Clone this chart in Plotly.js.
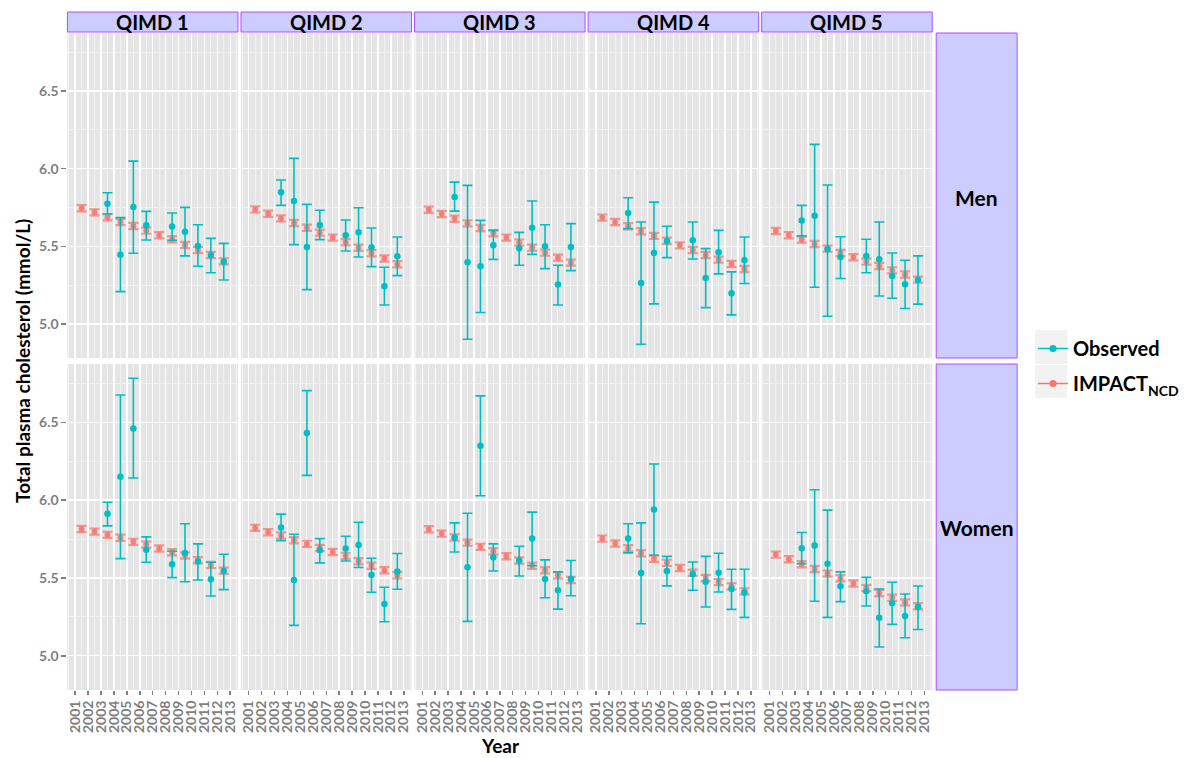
<!DOCTYPE html>
<html>
<head>
<meta charset="utf-8">
<script src="https://cdn.plot.ly/plotly-3.0.1.min.js"></script>
<style>html,body{margin:0;padding:0;background:#fff;}#chart{width:1184px;height:758px;}</style>
</head>
<body>
<div id="chart"></div>
<script>
// ---------------- DATA ----------------
const quintiles = ['QIMD 1', 'QIMD 2', 'QIMD 3', 'QIMD 4', 'QIMD 5'];
const sexes = ['Men', 'Women'];
const years = [2001, 2002, 2003, 2004, 2005, 2006, 2007, 2008, 2009, 2010, 2011, 2012];
const tickYears = [2001, 2002, 2003, 2004, 2005, 2006, 2007, 2008, 2009, 2010, 2011, 2012, 2013];

// IMPACT_NCD modelled mean (mmol/L), one row per QIMD
const impactMen = [
  [5.745, 5.719, 5.687, 5.657, 5.631, 5.601, 5.571, 5.545, 5.509, 5.476, 5.444, 5.403],
  [5.738, 5.710, 5.680, 5.650, 5.620, 5.588, 5.556, 5.526, 5.491, 5.455, 5.421, 5.384],
  [5.736, 5.708, 5.678, 5.648, 5.618, 5.584, 5.556, 5.524, 5.491, 5.459, 5.427, 5.395],
  [5.685, 5.657, 5.629, 5.597, 5.567, 5.536, 5.506, 5.476, 5.444, 5.414, 5.386, 5.354],
  [5.599, 5.571, 5.543, 5.515, 5.485, 5.457, 5.429, 5.401, 5.373, 5.345, 5.318, 5.285]
];
const impactWomen = [
  [5.815, 5.798, 5.777, 5.758, 5.732, 5.715, 5.689, 5.665, 5.644, 5.614, 5.584, 5.547],
  [5.822, 5.794, 5.773, 5.742, 5.719, 5.693, 5.667, 5.642, 5.607, 5.579, 5.549, 5.517],
  [5.813, 5.785, 5.760, 5.727, 5.700, 5.672, 5.639, 5.612, 5.579, 5.549, 5.517, 5.487],
  [5.753, 5.721, 5.691, 5.659, 5.624, 5.597, 5.564, 5.534, 5.500, 5.474, 5.446, 5.414],
  [5.650, 5.620, 5.588, 5.558, 5.528, 5.498, 5.464, 5.436, 5.403, 5.373, 5.343, 5.318]
];
const impactHalfCI = 0.02;

// Observed (HSE) mean and 95% CI, null where not measured
const obsMen = [
  [null, null, 5.775, 5.446, 5.753, 5.635, null, 5.627, 5.594, 5.502, 5.442, 5.401],
  [null, null, 5.848, 5.792, 5.496, 5.637, null, 5.571, 5.590, 5.494, 5.243, 5.436],
  [null, null, 5.818, 5.397, 5.371, 5.506, null, 5.487, 5.620, 5.500, 5.253, 5.496],
  [null, null, 5.715, 5.264, 5.457, 5.534, null, 5.539, 5.296, 5.461, 5.197, 5.410],
  [null, null, 5.667, 5.697, 5.481, 5.431, null, 5.438, 5.416, 5.309, 5.255, 5.283]
];
const obsMenLo = [
  [null, null, 5.708, 5.208, 5.455, 5.541, null, 5.539, 5.438, 5.371, 5.330, 5.283],
  [null, null, 5.764, 5.511, 5.221, 5.543, null, 5.470, 5.431, 5.369, 5.122, 5.311],
  [null, null, 5.727, 4.901, 5.073, 5.416, null, 5.378, 5.448, 5.356, 5.122, 5.343],
  [null, null, 5.614, 4.869, 5.129, 5.427, null, 5.418, 5.105, 5.322, 5.058, 5.260],
  [null, null, 5.567, 5.236, 5.049, 5.292, null, 5.330, 5.180, 5.165, 5.099, 5.127]
];
const obsMenHi = [
  [null, null, 5.845, 5.685, 6.049, 5.725, null, 5.715, 5.751, 5.639, 5.551, 5.519],
  [null, null, 5.927, 6.067, 5.770, 5.732, null, 5.670, 5.749, 5.618, 5.365, 5.560],
  [null, null, 5.914, 5.893, 5.667, 5.603, null, 5.590, 5.792, 5.639, 5.378, 5.646],
  [null, null, 5.813, 5.657, 5.785, 5.629, null, 5.657, 5.485, 5.603, 5.335, 5.560],
  [null, null, 5.764, 6.157, 5.895, 5.562, null, 5.545, 5.657, 5.457, 5.410, 5.438]
];
const obsWomen = [
  [null, null, 5.912, 6.150, 6.461, 5.682, null, 5.588, 5.661, 5.605, 5.491, 5.545],
  [null, null, 5.824, 5.487, 6.431, 5.678, null, 5.689, 5.712, 5.519, 5.333, 5.541],
  [null, null, 5.758, 5.569, 6.350, 5.633, null, 5.612, 5.753, 5.494, 5.421, 5.494],
  [null, null, 5.753, 5.532, 5.940, 5.545, null, 5.524, 5.476, 5.534, 5.429, 5.406],
  [null, null, 5.691, 5.708, 5.592, 5.446, null, 5.414, 5.245, 5.337, 5.255, 5.313]
];
const obsWomenLo = [
  [null, null, 5.835, 5.624, 6.142, 5.601, null, 5.502, 5.476, 5.487, 5.384, 5.425],
  [null, null, 5.740, 5.195, 6.159, 5.597, null, 5.609, 5.567, 5.408, 5.219, 5.427],
  [null, null, 5.667, 5.221, 6.028, 5.545, null, 5.513, 5.579, 5.373, 5.300, 5.386],
  [null, null, 5.661, 5.206, 5.646, 5.449, null, 5.421, 5.313, 5.410, 5.298, 5.247],
  [null, null, 5.592, 5.350, 5.247, 5.348, null, 5.320, 5.056, 5.202, 5.116, 5.169]
];
const obsWomenHi = [
  [null, null, 5.987, 6.676, 6.783, 5.764, null, 5.672, 5.848, 5.719, 5.601, 5.652],
  [null, null, 5.910, 5.781, 6.704, 5.753, null, 5.768, 5.858, 5.627, 5.440, 5.657],
  [null, null, 5.854, 5.916, 6.670, 5.719, null, 5.704, 5.923, 5.616, 5.539, 5.612],
  [null, null, 5.848, 5.854, 6.232, 5.639, null, 5.603, 5.639, 5.659, 5.556, 5.556],
  [null, null, 5.792, 6.067, 5.936, 5.539, null, 5.504, 5.429, 5.472, 5.397, 5.448]
];

// ---------------- STYLE ----------------
const W = 1184, H = 758;
const FONT = 'Lato, "Open Sans", sans-serif';
const OBS_COL = '#00BFC4', IMP_COL = '#F8766D';
const panelLeft = 67.5, panelW = 170.7, panelGap = 3;
const rowsPx = [[33, 358], [364, 690]];
const stripTop = [12, 32];
const rightStrip = [937, 1018];

// points are drawn at mid-year
const xPos = years.map(y => y + 0.5);

const traces = [];
const layout = {
  width: W, height: H,
  margin: {l: 0, r: 0, t: 0, b: 0},
  paper_bgcolor: '#ffffff',
  plot_bgcolor: '#e5e5e5',
  font: {family: FONT, color: '#000'},
  showlegend: true,
  legend: {
    x: 1034 / W, xanchor: 'left', y: 1 - 329 / H, yanchor: 'top',
    bgcolor: 'rgba(0,0,0,0)', borderwidth: 0,
    font: {family: FONT, size: 20, weight: 700, color: '#000'},
    itemwidth: 30, traceorder: 'grouped', tracegroupgap: 6
  },
  shapes: [], annotations: []
};

const pf = (px) => px / W;
const pfy = (py) => 1 - py / H;

for (let r = 0; r < 2; r++) {
  for (let c = 0; c < 5; c++) {
    const n = r * 5 + c + 1;
    const xa = n === 1 ? 'xaxis' : 'xaxis' + n;
    const ya = n === 1 ? 'yaxis' : 'yaxis' + n;
    const xr = n === 1 ? 'x' : 'x' + n;
    const yr = n === 1 ? 'y' : 'y' + n;
    const x0 = panelLeft + c * (panelW + panelGap), x1 = x0 + panelW;
    layout[xa] = {
      domain: [pf(x0), pf(x1)], anchor: yr,
      range: [2000.4, 2013.6], tickmode: 'array', tickvals: tickYears, ticktext: tickYears.map(String),
      showgrid: true, gridcolor: '#ffffff', gridwidth: 1.4,
      minor: {tickmode: 'linear', tick0: 2000.5, dtick: 1, showgrid: true, gridcolor: '#f2f2f2', gridwidth: 1},
      zeroline: false, showline: false, fixedrange: true,
      showticklabels: r === 1, ticks: r === 1 ? 'outside' : '', ticklen: 4, tickwidth: 1.5, tickcolor: '#7f7f7f',
      tickangle: -90, tickfont: {family: FONT, size: 14, weight: 700, color: '#7f7f7f'}
    };
    layout[ya] = {
      domain: [pfy(rowsPx[r][1]), pfy(rowsPx[r][0])], anchor: xr,
      range: [4.78, 6.875], tickmode: 'linear', tick0: 5, dtick: 0.5, tickformat: '.1f',
      showgrid: true, gridcolor: '#ffffff', gridwidth: 1.4,
      minor: {tickmode: 'linear', tick0: 4.75, dtick: 0.5, showgrid: true, gridcolor: '#f2f2f2', gridwidth: 1},
      zeroline: false, showline: false, fixedrange: true,
      showticklabels: c === 0, ticks: c === 0 ? 'outside' : '', ticklen: 5, tickwidth: 1.5, tickcolor: '#7f7f7f',
      tickfont: {family: FONT, size: 14, weight: 700, color: '#7f7f7f'}
    };

    const imp = r === 0 ? impactMen[c] : impactWomen[c];
    const obs = r === 0 ? obsMen[c] : obsWomen[c];
    const lo = r === 0 ? obsMenLo[c] : obsWomenLo[c];
    const hi = r === 0 ? obsMenHi[c] : obsWomenHi[c];

    traces.push({
      type: 'scatter', mode: 'markers', x: xPos, y: imp, xaxis: xr, yaxis: yr,
      name: 'IMPACT<sub>NCD</sub>', showlegend: false,
      marker: {color: IMP_COL, size: 6, opacity: 0.85},
      error_y: {type: 'constant', value: impactHalfCI, color: 'rgba(248,118,109,0.75)', thickness: 2.2, width: 5}
    });
    traces.push({
      type: 'scatter', mode: 'markers', x: xPos, y: obs, xaxis: xr, yaxis: yr,
      name: 'Observed', showlegend: false,
      marker: {color: OBS_COL, size: 6.5},
      error_y: {
        type: 'data', symmetric: false,
        array: obs.map((v, i) => v === null ? null : hi[i] - v),
        arrayminus: obs.map((v, i) => v === null ? null : v - lo[i]),
        color: OBS_COL, thickness: 1.6, width: 5
      }
    });

    // column strips (top row only)
    if (r === 0) {
      layout.shapes.push({type: 'rect', xref: 'paper', yref: 'paper',
        x0: pf(x0), x1: pf(x1), y0: pfy(stripTop[1]), y1: pfy(stripTop[0]),
        fillcolor: '#ccccff', line: {color: '#b24dff', width: 1}});
      layout.annotations.push({xref: 'paper', yref: 'paper', x: pf((x0 + x1) / 2), y: pfy((stripTop[0] + stripTop[1]) / 2 + 0.5),
        text: quintiles[c], showarrow: false, xanchor: 'center', yanchor: 'middle',
        font: {family: FONT, size: 20, weight: 700, color: '#000'}});
    }
  }
  // row strips
  layout.shapes.push({type: 'rect', xref: 'paper', yref: 'paper',
    x0: pf(rightStrip[0]), x1: pf(rightStrip[1]), y0: pfy(rowsPx[r][1]), y1: pfy(rowsPx[r][0]),
    fillcolor: '#ccccff', line: {color: '#b24dff', width: 1}});
  layout.annotations.push({xref: 'paper', yref: 'paper', x: pf((rightStrip[0] + rightStrip[1]) / 2),
    y: pfy(r === 0 ? 197 : 527), text: sexes[r], showarrow: false, xanchor: 'center', yanchor: 'middle',
    font: {family: FONT, size: 21, weight: 700, color: '#000'}});
}

// legend entries
traces.push({type: 'scatter', mode: 'lines+markers', x: [null], y: [null], name: 'Observed',
  legendgroup: 'obs', line: {color: OBS_COL, width: 1.5}, marker: {color: OBS_COL, size: 7}});
traces.push({type: 'scatter', mode: 'lines+markers', x: [null], y: [null], name: 'IMPACT<sub>NCD</sub>',
  legendgroup: 'imp', line: {color: IMP_COL, width: 1.5}, marker: {color: IMP_COL, size: 7}});

// legend key backgrounds
layout.shapes.push({type: 'rect', xref: 'paper', yref: 'paper', x0: pf(1036), x1: pf(1068), y0: pfy(364), y1: pfy(330),
  fillcolor: '#f2f2f2', line: {width: 0}, layer: 'below'});
layout.shapes.push({type: 'rect', xref: 'paper', yref: 'paper', x0: pf(1036), x1: pf(1068), y0: pfy(398), y1: pfy(365),
  fillcolor: '#f2f2f2', line: {width: 0}, layer: 'below'});

// axis titles spanning the facet grid
layout.annotations.push({xref: 'paper', yref: 'paper', x: pf(22), y: pfy(361), text: 'Total plasma cholesterol (mmol/L)',
  textangle: -90, showarrow: false, xanchor: 'center', yanchor: 'middle',
  font: {family: FONT, size: 19, weight: 700, color: '#000'}});
layout.annotations.push({xref: 'paper', yref: 'paper', x: pf(501), y: pfy(745), text: 'Year',
  showarrow: false, xanchor: 'center', yanchor: 'middle', borderpad: 0,
  font: {family: FONT, size: 19, weight: 700, color: '#000'}});

Plotly.newPlot('chart', traces, layout, {displayModeBar: false, staticPlot: true});
</script>
</body>
</html>
